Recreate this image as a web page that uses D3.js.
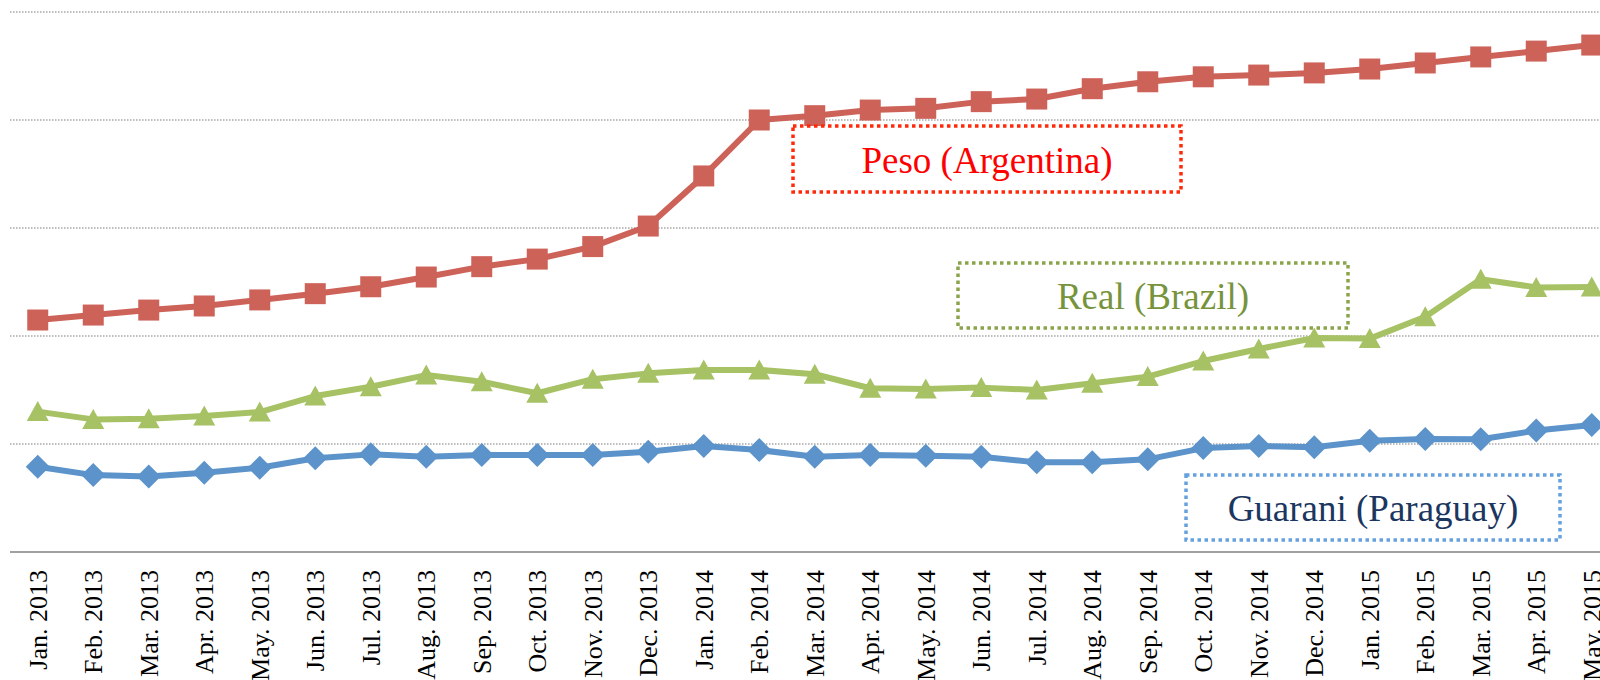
<!DOCTYPE html>
<html>
<head>
<meta charset="utf-8">
<script src="https://cdn.jsdelivr.net/npm/d3@7/dist/d3.min.js"></script>
<style>
  html, body { margin: 0; padding: 0; background: #fff; }
  svg { display: block; }
</style>
</head>
<body>
<svg id="chart" width="1600" height="680"></svg>
<script>
const months = ["Jan. 2013","Feb. 2013","Mar. 2013","Apr. 2013","May. 2013","Jun. 2013","Jul. 2013","Aug. 2013","Sep. 2013","Oct. 2013","Nov. 2013","Dec. 2013",
  "Jan. 2014","Feb. 2014","Mar. 2014","Apr. 2014","May. 2014","Jun. 2014","Jul. 2014","Aug. 2014","Sep. 2014","Oct. 2014","Nov. 2014","Dec. 2014",
  "Jan. 2015","Feb. 2015","Mar. 2015","Apr. 2015","May. 2015"];

const peso = [107.4,109.7,112.0,113.9,116.7,119.6,122.8,127.3,132.1,135.6,141.4,150.9,
  174.1,200.0,202.0,204.6,205.4,208.5,209.7,214.5,217.7,220.0,220.8,221.8,
  223.6,226.4,229.2,231.9,234.7];
const real = [65.0,61.4,61.7,63.0,64.8,72.2,76.5,81.9,78.8,73.5,80.0,82.7,
  84.3,84.3,82.3,75.8,75.5,76.1,75.0,78.1,81.2,88.4,94.0,99.1,
  98.8,108.9,126.3,122.5,122.7];
const guarani = [39.5,35.6,34.9,36.7,39.0,43.4,45.2,44.1,44.9,44.9,44.9,46.4,
  49.1,47.2,44.1,44.9,44.6,44.1,41.5,41.5,42.9,48.1,49.1,48.5,
  51.5,52.3,52.2,56.2,58.8];
const gridTicks = [50,100,150,200,250];

const svg = d3.select("#chart");
const left = 10, plotTop = 12, plotBottom = 552;
const step = 55.5;

const x = d3.scaleBand().domain(months).range([left, left + step * months.length]).padding(0);
const y = d3.scaleLinear().domain([0, 250]).range([plotBottom, plotTop]);
const cx = d => x(d) + x.bandwidth() / 2;

// gridlines
svg.append("g").selectAll("line").data(gridTicks).join("line")
  .attr("x1", left).attr("x2", 1600)
  .attr("y1", d => y(d)).attr("y2", d => y(d))
  .attr("stroke", "#a6a6a6").attr("stroke-width", 1.5)
  .attr("stroke-dasharray", "1.5,1.5");

// x axis
const xAxis = d3.axisBottom(x).tickSize(0).tickPadding(0);
const gx = svg.append("g").attr("transform", `translate(0,${plotBottom})`).call(xAxis);
gx.select(".domain").attr("stroke", "#a0a0a0").attr("stroke-width", 2)
  .attr("d", `M${left},0H1600`);
gx.selectAll(".tick text")
  .attr("font-family", "'Liberation Serif', 'Times New Roman', serif")
  .attr("font-size", 26)
  .attr("fill", "#000")
  .attr("text-anchor", "end")
  .attr("transform", "translate(0,18) rotate(-90)")
  .attr("x", 0).attr("y", 0).attr("dy", "0.35em");

const series = [
  { name: "guarani", values: guarani, color: "#5b93ca", shape: "diamond" },
  { name: "real", values: real, color: "#a6c264", shape: "triangle" },
  { name: "peso", values: peso, color: "#cd6259", shape: "square" }
];

const shapes = {
  square: "M-10.5,-10.5H10.5V10.5H-10.5Z",
  triangle: "M0,-10.5L11,9.5H-11Z",
  diamond: "M0,-12L12,0L0,12L-12,0Z"
};

const line = d3.line().x((d, i) => cx(months[i])).y(d => y(d));

series.forEach(s => {
  const g = svg.append("g");
  g.append("path").datum(s.values)
    .attr("d", line)
    .attr("fill", "none")
    .attr("stroke", s.color)
    .attr("stroke-width", 6)
    .attr("stroke-linejoin", "round");
  g.selectAll("path.m").data(s.values).join("path")
    .attr("class", "m")
    .attr("d", shapes[s.shape])
    .attr("transform", (d, i) => `translate(${cx(months[i])},${y(d)})`)
    .attr("fill", s.color);
});

// annotation boxes
const labels = [
  { text: "Peso (Argentina)", x1: 793, y1: 126, x2: 1181, y2: 192, stroke: "#ff2a0a", color: "#ff0000", base: 173 },
  { text: "Real (Brazil)", x1: 958, y1: 263, x2: 1348, y2: 328, stroke: "#8aa44a", color: "#77933c", base: 309 },
  { text: "Guarani (Paraguay)", x1: 1186, y1: 475, x2: 1560, y2: 540, stroke: "#65a1dc", color: "#1b365f", base: 521 }
];
const lg = svg.append("g");
labels.forEach(l => {
  lg.append("rect")
    .attr("x", l.x1).attr("y", l.y1)
    .attr("width", l.x2 - l.x1).attr("height", l.y2 - l.y1)
    .attr("fill", "#fff")
    .attr("stroke", l.stroke).attr("stroke-width", 3.5)
    .attr("stroke-dasharray", "3.5,3.5");
  lg.append("text")
    .attr("x", (l.x1 + l.x2) / 2).attr("y", l.base)
    .attr("text-anchor", "middle")
    .attr("font-family", "'Liberation Serif', 'Times New Roman', serif")
    .attr("font-size", 37)
    .attr("fill", l.color)
    .text(l.text);
});
</script>
</body>
</html>
